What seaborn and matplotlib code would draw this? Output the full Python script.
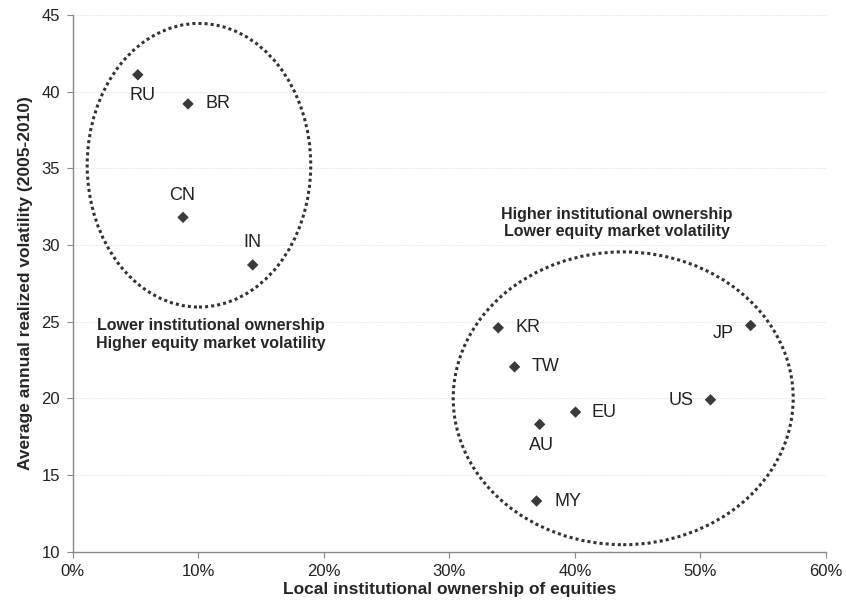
import matplotlib
matplotlib.use("Agg")
import pandas as pd
import seaborn as sns
from matplotlib import pyplot as plt
from matplotlib.patches import Ellipse
from matplotlib.ticker import FuncFormatter

# data
countries = ["RU", "BR", "CN", "IN", "KR", "TW", "EU", "AU", "MY", "US", "JP"]
ownership = [5.2, 9.2, 8.8, 14.35, 33.9, 35.2, 40.05, 37.2, 36.95, 50.8, 54.0]
volatility = [41.1, 39.2, 31.8, 28.7, 24.6, 22.05, 19.1, 18.3, 13.3, 19.9, 24.75]
# label offsets in pixels (dx, dy)
offsets = [(5, -21), (17, 0), (-1, 22), (0, 22), (17, 0), (17, 0),
           (16, 0), (2, -21), (18, 0), (-17, -1), (-17, -8)]
aligns = ["center", "left", "center", "center", "left", "left",
          "left", "center", "left", "right", "right"]


def main():
    sns.set_style("white")
    plt.rcParams["font.family"] = ["Liberation Sans", "DejaVu Sans"]

    df = pd.DataFrame({"country": countries, "own": ownership, "vol": volatility})

    fig = plt.figure(figsize=(8.46, 6.14), dpi=100)
    ax = fig.add_axes([0.0857, 0.1016, 0.8907, 0.874])

    sns.scatterplot(data=df, x="own", y="vol", marker="D", s=34,
                    color="#3a3a3a", edgecolor="none", ax=ax, zorder=3)

    for c, x, y, (dx, dy), ha in zip(countries, ownership, volatility, offsets, aligns):
        ax.annotate(c, (x, y), xytext=(dx * 0.72, dy * 0.72), textcoords="offset points",
                    ha=ha, va="center", fontsize=13, color="#222222")

    ax.add_patch(Ellipse((10.07, 35.2), 17.8, 18.5, fill=False, ls=(0, (1, 1)),
                         lw=2.2, ec="#333333"))
    ax.add_patch(Ellipse((43.85, 20.0), 27.07, 19.1, fill=False, ls=(0, (1, 1)),
                         lw=2.2, ec="#333333"))

    ax.text(11.0, 24.15, "Lower institutional ownership\nHigher equity market volatility",
            ha="center", va="center", fontsize=11.5, fontweight="heavy", linespacing=1.2)
    ax.text(43.35, 31.45, "Higher institutional ownership\nLower equity market volatility",
            ha="center", va="center", fontsize=11.5, fontweight="heavy", linespacing=1.2)

    ax.set_xlim(0, 60)
    ax.set_ylim(10, 45)
    ax.set_xticks(range(0, 61, 10))
    ax.set_yticks(range(10, 46, 5))
    ax.xaxis.set_major_formatter(FuncFormatter(lambda v, p: f"{v:.0f}%"))
    ax.yaxis.grid(True, color="#e4e4e4", ls=(0, (1, 1)), lw=0.8)
    ax.set_axisbelow(True)
    for s in ["top", "right"]:
        ax.spines[s].set_visible(False)
    for s in ["left", "bottom"]:
        ax.spines[s].set_color("#888888")
        ax.spines[s].set_linewidth(1)
    ax.tick_params(axis="both", direction="out", length=4, color="#888888",
                   labelsize=12, labelcolor="#222222", left=True, bottom=True, pad=5)
    ax.set_xlabel("Local institutional ownership of equities", fontsize=12.5,
                  fontweight="bold", labelpad=2)
    ax.set_ylabel("Average annual realized volatility (2005-2010)", fontsize=12.5,
                  fontweight="bold", labelpad=6)

    fig.savefig("out.png", dpi=100)


if __name__ == "__main__":
    main()
